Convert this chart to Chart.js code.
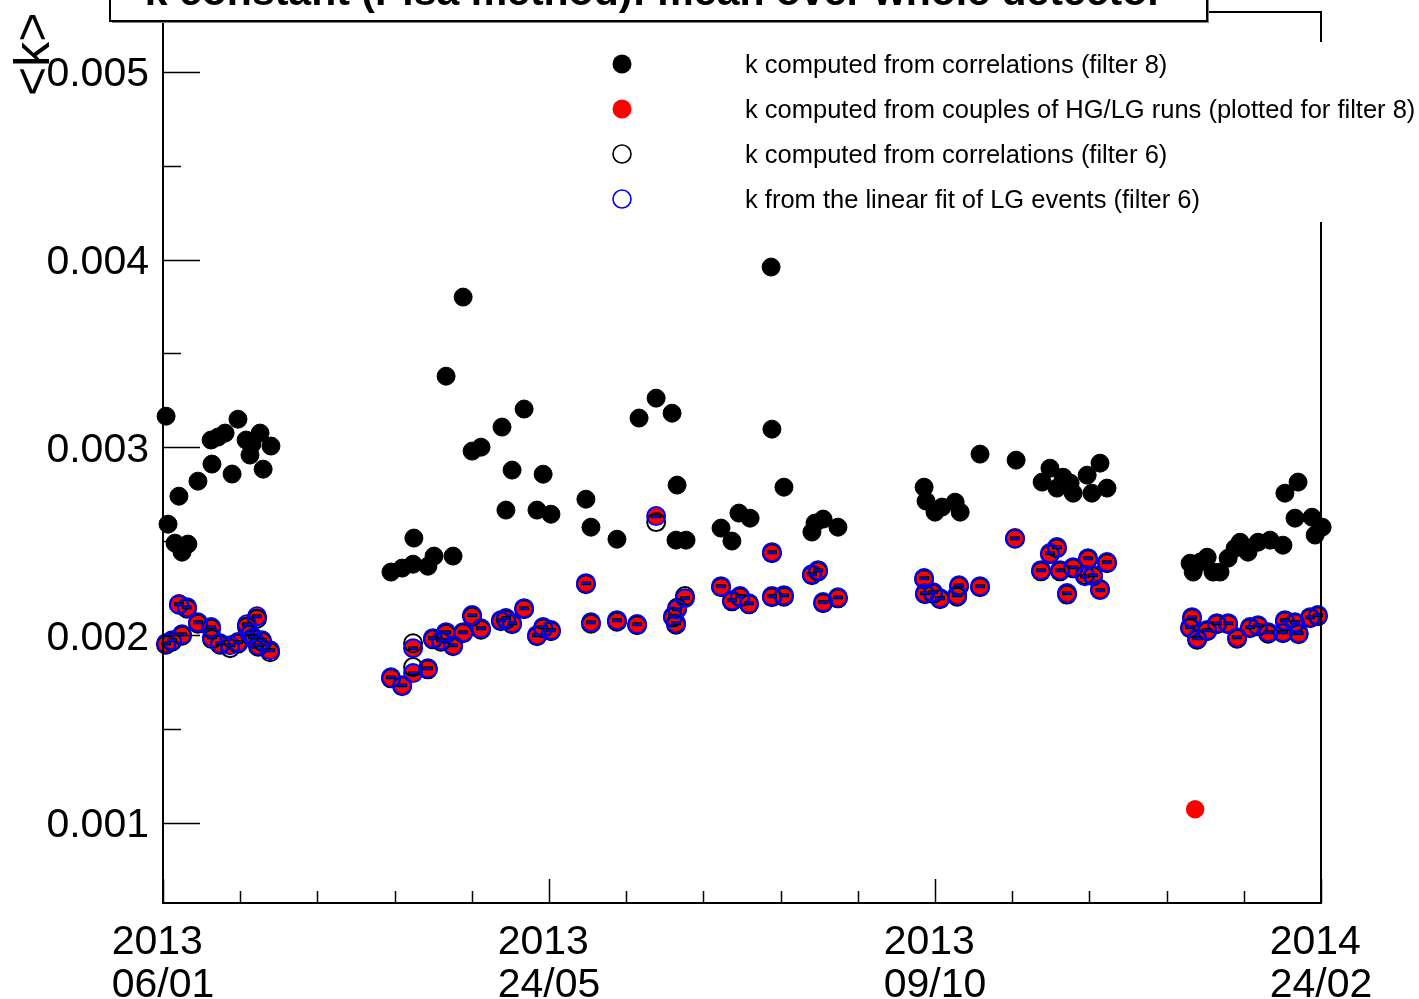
<!DOCTYPE html>
<html>
<head>
<meta charset="utf-8">
<title>k constant (Pisa method): mean over whole detector</title>
<script src="https://cdn.jsdelivr.net/npm/chart.js@4/dist/chart.umd.min.js"></script>
<style>
  html, body { margin: 0; padding: 0; background: #ffffff; }
  canvas { display: block; }
</style>
</head>
<body>
<canvas id="c" width="1419" height="999"></canvas>
<script>
// Days are counted from 2013-01-06 (start of the time axis).

// k computed from correlations (filter 8)
const corr8Day = [
  1.1, 1.8, 4.3, 5.7, 6.8, 8.9, 12.5, 17.2, 17.5, 19.7, 22.2, 24.7, 26.8, 29.7, 31.1, 31.8, 34.7, 35.8, 38.6,
  81.5, 85.5, 89.4, 89.7, 94.7, 96.9, 101.2, 103.7, 107.3, 110.5, 113.7, 121.2, 122.6, 124.8, 129.1, 133.7, 135.9, 138.7,
  151.2, 153.0, 162.3, 170.2, 176.3, 182.0, 183.8, 183.4, 187.0, 199.5, 203.4, 205.9, 209.9, 217.4, 217.7, 222.0, 232.0, 233.1, 236.0, 241.3,
  272.1, 272.8, 276.0, 278.5, 283.2, 285.0, 292.1, 305.0, 314.3, 317.1, 319.6, 321.8, 324.3, 325.4, 330.4, 332.1, 335.0, 337.5,
  367.2, 368.3, 370.8, 373.3, 375.4, 377.9, 380.8, 383.3, 385.1, 387.9, 391.5, 395.8, 400.4, 401.1, 405.8, 404.7, 410.8, 411.9, 414.4
];
const corr8K = [
  0.003166, 0.002591, 0.002490, 0.002740, 0.002442, 0.002485, 0.002820, 0.003039, 0.002911, 0.003055, 0.003076, 0.002858, 0.003150, 0.003039, 0.002959, 0.003017, 0.003076, 0.002884, 0.003007,
  0.002336, 0.002357, 0.002378, 0.002517, 0.002367, 0.002421, 0.003379, 0.002421, 0.003800, 0.002980, 0.003001, 0.003108, 0.002666, 0.002879, 0.003204, 0.002666, 0.002857, 0.002644,
  0.002724, 0.002575, 0.002511, 0.003156, 0.003262, 0.003182, 0.002799, 0.002506, 0.002506, 0.002570, 0.002501, 0.002650, 0.002623, 0.003960, 0.003097, 0.002788, 0.002549, 0.002597, 0.002618, 0.002575,
  0.002788, 0.002714, 0.002655, 0.002682, 0.002708, 0.002655, 0.002964, 0.002932, 0.002815, 0.002889, 0.002783, 0.002841, 0.002810, 0.002756, 0.002852, 0.002756, 0.002916, 0.002783,
  0.002383, 0.002336, 0.002389, 0.002415, 0.002336, 0.002336, 0.002410, 0.002463, 0.002495, 0.002442, 0.002495, 0.002506, 0.002479, 0.002756, 0.002815, 0.002623, 0.002628, 0.002533, 0.002575
];

// Runs shared by the HG/LG couples, filter-6 correlations and LG linear fit
const runDay = [
  1.1, 3.2, 5.7, 8.6, 6.8, 12.5, 17.2, 17.5, 20.4, 24.0, 26.8, 30.0, 31.1, 33.6, 32.2, 35.4, 34.0, 38.3,
  81.5, 85.5, 89.4, 94.7, 89.4, 96.5, 101.2, 103.7, 99.4, 107.3, 110.5, 113.7, 120.8, 122.6, 124.8, 129.1, 133.7, 135.9, 138.7,
  151.2, 153.0, 162.3, 169.5, 176.3, 183.8, 182.3, 183.4, 186.6, 199.5, 203.4, 206.3, 209.5, 217.7, 217.7, 222.0, 232.0, 234.2, 236.0, 241.3,
  272.1, 272.4, 275.3, 277.8, 283.9, 284.6, 292.1, 304.6, 313.9, 317.1, 319.6, 320.7, 323.2, 325.4, 329.6, 330.7, 332.5, 335.0, 337.5,
  367.9, 367.2, 369.7, 373.3, 376.8, 380.8, 384.0, 388.6, 391.5, 395.1, 400.4, 401.1, 406.0, 404.7, 410.1, 412.9, 369.0
];
// k computed from couples of HG/LG runs (plotted for filter 8)
const couplesK = [
  0.001957, 0.001973, 0.002170, 0.002149, 0.002005, 0.002069, 0.002043, 0.001989, 0.001957, 0.001947, 0.001963, 0.002053, 0.002011, 0.002096, 0.001989, 0.001973, 0.001947, 0.001920,
  0.001776, 0.001734, 0.001798, 0.001824, 0.001931, 0.001984, 0.002016, 0.001947, 0.001973, 0.002016, 0.002107, 0.002037, 0.002080, 0.002091, 0.002064, 0.002144, 0.002000, 0.002043, 0.002027,
  0.002277, 0.002069, 0.002080, 0.002059, 0.002634, 0.002138, 0.002101, 0.002064, 0.002197, 0.002261, 0.002186, 0.002208, 0.002170, 0.002442, 0.002208, 0.002213, 0.002325, 0.002346, 0.002176, 0.002202,
  0.002304, 0.002224, 0.002229, 0.002197, 0.002213, 0.002266, 0.002261, 0.002522, 0.002346, 0.002437, 0.002469, 0.002346, 0.002224, 0.002362, 0.002330, 0.002410, 0.002320, 0.002250, 0.002389,
  0.002096, 0.002043, 0.001984, 0.002027, 0.002064, 0.002064, 0.001989, 0.002043, 0.002053, 0.002016, 0.002016, 0.002080, 0.002011, 0.002069, 0.002096, 0.002107, 0.001073
];
// k computed from correlations (filter 6)
const corr6K = [
  0.001949, 0.001965, 0.002162, 0.002141, 0.001997, 0.002061, 0.002035, 0.001979, 0.001949, 0.001931, 0.001955, 0.002045, 0.002003, 0.002088, 0.001981, 0.001965, 0.001939, 0.001909,
  0.001770, 0.001728, 0.001830, 0.001818, 0.001957, 0.001978, 0.002008, 0.001941, 0.001965, 0.002010, 0.002099, 0.002029, 0.002074, 0.002083, 0.002058, 0.002138, 0.001994, 0.002037, 0.002021,
  0.002271, 0.002061, 0.002072, 0.002053, 0.002602, 0.002146, 0.002095, 0.002056, 0.002208, 0.002255, 0.002180, 0.002202, 0.002164, 0.002436, 0.002202, 0.002205, 0.002319, 0.002340, 0.002170, 0.002196,
  0.002298, 0.002218, 0.002221, 0.002191, 0.002205, 0.002260, 0.002255, 0.002514, 0.002340, 0.002431, 0.002463, 0.002340, 0.002216, 0.002356, 0.002322, 0.002404, 0.002314, 0.002244, 0.002383,
  0.002090, 0.002037, 0.001976, 0.002021, 0.002058, 0.002058, 0.001981, 0.002037, 0.002047, 0.002008, 0.002010, 0.002074, 0.002005, 0.002063, 0.002090, 0.002101, null
];
// k from the linear fit of LG events (filter 6)
const linFitK = [
  0.001957, 0.001973, 0.002165, 0.002149, 0.002005, 0.002069, 0.002043, 0.001989, 0.001957, 0.001947, 0.001963, 0.002058, 0.002011, 0.002101, 0.001989, 0.001973, 0.001947, 0.001920,
  0.001776, 0.001734, 0.001798, 0.001824, 0.001931, 0.001984, 0.002016, 0.001947, 0.001973, 0.002016, 0.002107, 0.002037, 0.002080, 0.002091, 0.002064, 0.002144, 0.002000, 0.002043, 0.002027,
  0.002277, 0.002069, 0.002080, 0.002059, 0.002634, 0.002138, 0.002101, 0.002064, 0.002197, 0.002261, 0.002186, 0.002208, 0.002170, 0.002442, 0.002208, 0.002213, 0.002325, 0.002346, 0.002176, 0.002202,
  0.002304, 0.002224, 0.002229, 0.002197, 0.002213, 0.002266, 0.002261, 0.002516, 0.002346, 0.002437, 0.002469, 0.002346, 0.002224, 0.002362, 0.002314, 0.002410, 0.002320, 0.002240, 0.002389,
  0.002096, 0.002043, 0.001984, 0.002027, 0.002064, 0.002064, 0.001989, 0.002043, 0.002053, 0.002016, 0.002016, 0.002080, 0.002011, 0.002069, 0.002096, 0.002107, null
];

// Axis ticks and labels
const yMajorTicks = [0.001, 0.002, 0.003, 0.004, 0.005];
const yMinorTicks = [0.0015, 0.0025, 0.0035, 0.0045];
const xMajorTicks = [0, 138, 276, 414];
const xMinorTicks = [27.6, 55.2, 82.8, 110.4, 165.6, 193.2, 220.8, 248.4, 303.6, 331.2, 358.8, 386.4];
const xTickLabels = [['2013', '06/01'], ['2013', '24/05'], ['2013', '09/10'], ['2014', '24/02']];

const titleText = 'k constant (Pisa method): mean over whole detector';
const yTitleText = '<k>';
const legendLabels = [
  'k computed from correlations (filter 8)',
  'k computed from couples of HG/LG runs (plotted for filter 8)',
  'k computed from correlations (filter 6)',
  'k from the linear fit of LG events (filter 6)'
];

const FONT = '"Liberation Sans", Arial, Helvetica, sans-serif';

function pts(xs, ys) {
  const out = [];
  for (let i = 0; i < xs.length; i++) {
    if (ys[i] !== null) out.push({ x: xs[i], y: ys[i] });
  }
  return out;
}

// Small error-bar dash drawn inside the LG-fit markers
const dash = document.createElement('canvas');
dash.width = 12; dash.height = 6;
(function () {
  const g = dash.getContext('2d');
  g.fillStyle = '#0000ff';
  g.fillRect(1, 1, 10, 4);
  g.strokeStyle = '#000000';
  g.lineWidth = 1;
  g.strokeRect(1.5, 1.5, 9, 3);
})();

// Frame, ticks, labels, title box and legend drawn over the plot
const framePlugin = {
  id: 'rootFrame',
  afterDatasetsDraw(chart) {
    const ctx = chart.ctx;
    const a = chart.chartArea;
    const xs = chart.scales.x, ys = chart.scales.y;
    ctx.save();
    ctx.strokeStyle = '#000';
    ctx.fillStyle = '#000';

    // frame
    ctx.lineWidth = 2;
    ctx.strokeRect(a.left, a.top, a.right - a.left, a.bottom - a.top);

    // y ticks (inside the frame)
    ctx.lineWidth = 1.5;
    ctx.beginPath();
    yMajorTicks.forEach(v => {
      const p = Math.round(ys.getPixelForValue(v)) + 0.5;
      ctx.moveTo(a.left, p); ctx.lineTo(a.left + 37, p);
    });
    yMinorTicks.forEach(v => {
      const p = Math.round(ys.getPixelForValue(v)) + 0.5;
      ctx.moveTo(a.left, p); ctx.lineTo(a.left + 18, p);
    });
    // x ticks
    xMajorTicks.forEach(v => {
      const p = Math.round(xs.getPixelForValue(v)) + 0.5;
      ctx.moveTo(p, a.bottom); ctx.lineTo(p, a.bottom - 24);
    });
    xMinorTicks.forEach(v => {
      const p = Math.round(xs.getPixelForValue(v)) + 0.5;
      ctx.moveTo(p, a.bottom); ctx.lineTo(p, a.bottom - 12);
    });
    ctx.stroke();

    // y tick labels
    ctx.font = '41px ' + FONT;
    ctx.textAlign = 'right';
    ctx.textBaseline = 'alphabetic';
    yMajorTicks.forEach(v => {
      const p = ys.getPixelForValue(v);
      ctx.fillText(v.toFixed(3), 149, p + 14.5);
    });

    // x tick labels: two left-aligned lines centred as a block
    ctx.textAlign = 'left';
    xMajorTicks.forEach((v, i) => {
      const p = xs.getPixelForValue(v);
      const lines = xTickLabels[i];
      const w = Math.max(...lines.map(s => ctx.measureText(s).width));
      const left = p - w / 2;
      ctx.fillText(lines[0], left, 954);
      ctx.fillText(lines[1], left, 997);
    });

    // y axis title, rotated
    ctx.save();
    ctx.translate(49, 96);
    ctx.rotate(-Math.PI / 2);
    ctx.font = '50px ' + FONT;
    ctx.textAlign = 'left';
    ctx.fillText(yTitleText, 0, 0);
    ctx.restore();

    // title box
    ctx.fillStyle = '#808080';
    ctx.fillRect(112, -10, 1097, 33);
    ctx.fillStyle = '#fff';
    ctx.fillRect(110, -10, 1097, 31);
    ctx.lineWidth = 2;
    ctx.strokeStyle = '#000';
    ctx.strokeRect(110, -10, 1097, 31);
    ctx.fillStyle = '#000';
    ctx.font = 'bold 41px ' + FONT;
    ctx.textAlign = 'center';
    ctx.fillText(titleText, 654, 5);

    // legend
    ctx.fillStyle = '#fff';
    ctx.fillRect(590, 42, 829, 180);
    const rowsY = [64, 109, 154, 199];
    const mx = 622;
    // filled black
    ctx.fillStyle = '#000';
    ctx.beginPath(); ctx.arc(mx, rowsY[0], 9.5, 0, Math.PI * 2); ctx.fill();
    // filled red
    ctx.fillStyle = '#ff0000';
    ctx.beginPath(); ctx.arc(mx, rowsY[1], 9.5, 0, Math.PI * 2); ctx.fill();
    // open black
    ctx.lineWidth = 1.6;
    ctx.strokeStyle = '#000';
    ctx.beginPath(); ctx.arc(mx, rowsY[2], 9, 0, Math.PI * 2); ctx.stroke();
    // open blue
    ctx.strokeStyle = '#0000ff';
    ctx.beginPath(); ctx.arc(mx, rowsY[3], 9, 0, Math.PI * 2); ctx.stroke();

    ctx.fillStyle = '#000';
    ctx.font = '25.5px ' + FONT;
    ctx.textAlign = 'left';
    legendLabels.forEach((t, i) => ctx.fillText(t, 745, rowsY[i] + 8.5));

    ctx.restore();
  }
};

const common = {
  pointStyle: 'circle',
  clip: false,
  showLine: false
};

new Chart(document.getElementById('c'), {
  type: 'scatter',
  data: {
    datasets: [
      Object.assign({
        label: legendLabels[3],
        data: pts(runDay, linFitK),
        pointRadius: 6,
        pointStyle: dash,
        order: 1
      }, { clip: false, showLine: false }),
      Object.assign({
        label: legendLabels[3],
        data: pts(runDay, linFitK),
        pointRadius: 9,
        borderWidth: 2,
        borderColor: '#0000ff',
        backgroundColor: 'rgba(0,0,0,0)',
        order: 2
      }, common),
      Object.assign({
        label: legendLabels[2],
        data: pts(runDay, corr6K),
        pointRadius: 9,
        borderWidth: 2,
        borderColor: '#000000',
        backgroundColor: 'rgba(0,0,0,0)',
        order: 3
      }, common),
      Object.assign({
        label: legendLabels[1],
        data: pts(runDay, couplesK),
        pointRadius: 9.2,
        borderWidth: 0,
        borderColor: '#ff0000',
        backgroundColor: '#ff0000',
        order: 4
      }, common),
      Object.assign({
        label: legendLabels[0],
        data: pts(corr8Day, corr8K),
        pointRadius: 9,
        borderWidth: 1,
        borderColor: '#000000',
        backgroundColor: '#000000',
        order: 5
      }, common)
    ]
  },
  options: {
    responsive: false,
    devicePixelRatio: 1,
    animation: false,
    events: [],
    layout: { padding: { left: 163, right: 98, top: 12, bottom: 96 } },
    plugins: {
      legend: { display: false },
      tooltip: { enabled: false },
      title: { display: false }
    },
    scales: {
      x: { type: 'linear', min: 0, max: 414, display: false },
      y: { type: 'linear', min: 0.000574, max: 0.005318, display: false }
    }
  },
  plugins: [framePlugin]
});
</script>
</body>
</html>
